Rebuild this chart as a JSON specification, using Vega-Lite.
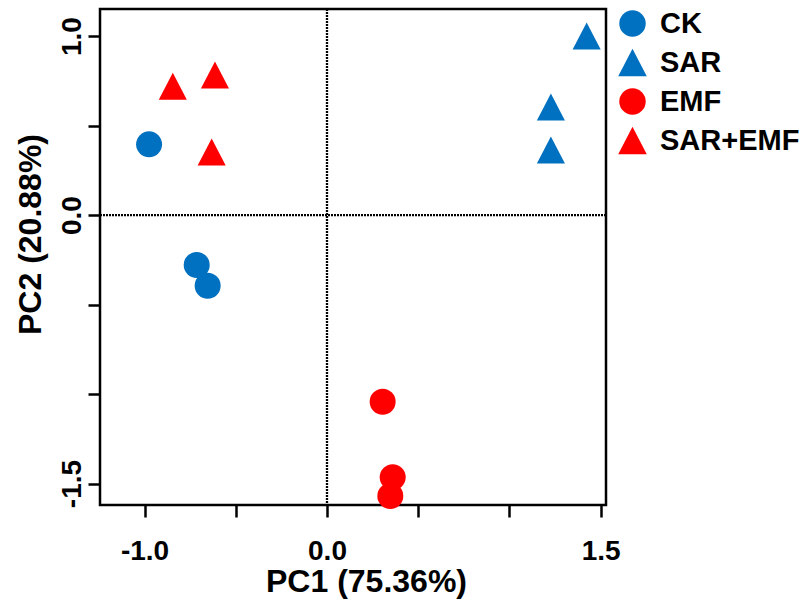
{
  "$schema": "https://vega.github.io/schema/vega-lite/v6.json",
  "autosize": "none",
  "width": 506,
  "height": 496,
  "padding": {"left": 100, "top": 9, "right": 203, "bottom": 105},
  "background": "white",
  "config": {
    "view": {"stroke": "black", "strokeWidth": 2.5},
    "font": "Liberation Sans",
    "axis": {
      "domain": false,
      "grid": false,
      "ticks": true,
      "tickColor": "black",
      "tickWidth": 2.5,
      "tickSize": 12,
      "labelFont": "Liberation Sans",
      "labelFontWeight": "bold",
      "labelFontSize": 28,
      "labelColor": "black",
      "labelOverlap": false,
      "labelFlush": false,
      "titleFont": "Liberation Sans",
      "titleFontWeight": "bold",
      "titleFontSize": 32,
      "titleColor": "black"
    },
    "legend": {
      "labelFont": "Liberation Sans",
      "labelFontWeight": "bold",
      "labelFontSize": 29,
      "labelColor": "black"
    }
  },
  "layer": [
    {
      "data": {"values": [{"x0": 0}]},
      "mark": {"type": "rule", "color": "black", "strokeWidth": 2.3, "strokeDash": [2, 1]},
      "encoding": {"x": {"field": "x0", "type": "quantitative"}}
    },
    {
      "data": {"values": [{"y0": 0}]},
      "mark": {"type": "rule", "color": "black", "strokeWidth": 2.3, "strokeDash": [2, 1]},
      "encoding": {"y": {"field": "y0", "type": "quantitative"}}
    },
    {
      "data": {
        "values": [
          {"group": "CK", "PC1": -0.975, "PC2": 0.395},
          {"group": "CK", "PC1": -0.714, "PC2": -0.279},
          {"group": "CK", "PC1": -0.654, "PC2": -0.395},
          {"group": "SAR", "PC1": 1.423, "PC2": 1.0},
          {"group": "SAR", "PC1": 1.227, "PC2": 0.603},
          {"group": "SAR", "PC1": 1.227, "PC2": 0.363},
          {"group": "EMF", "PC1": 0.305, "PC2": -1.043},
          {"group": "EMF", "PC1": 0.36, "PC2": -1.465},
          {"group": "EMF", "PC1": 0.347, "PC2": -1.57},
          {"group": "SAR+EMF", "PC1": -0.845, "PC2": 0.719},
          {"group": "SAR+EMF", "PC1": -0.614, "PC2": 0.782},
          {"group": "SAR+EMF", "PC1": -0.632, "PC2": 0.352}
        ]
      },
      "mark": {"type": "point", "filled": true, "opacity": 1, "size": 676},
      "encoding": {
        "x": {
          "field": "PC1",
          "type": "quantitative",
          "scale": {"domain": [-1.244, 1.529], "nice": false, "zero": false},
          "axis": {
            "values": [-1, -0.5, 0, 0.5, 1, 1.5],
            "labelExpr": "datum.value == -1 ? '-1.0' : datum.value == 0 ? '0.0' : datum.value == 1.5 ? '1.5' : ''",
            "labelBaseline": "top",
            "labelPadding": 20,
            "title": "PC1 (75.36%)",
            "titleX": 266,
            "titleY": 86,
            "titleAlign": "center",
            "titleBaseline": "alphabetic",
            "titleAnchor": null
          }
        },
        "y": {
          "field": "PC2",
          "type": "quantitative",
          "scale": {"domain": [-1.62, 1.151], "nice": false, "zero": false},
          "axis": {
            "values": [-1.5, -1, -0.5, 0, 0.5, 1],
            "labelExpr": "datum.value == -1.5 ? '-1.5' : datum.value == 0 ? '0.0' : datum.value == 1 ? '1.0' : ''",
            "labelAngle": -90,
            "labelAlign": "center",
            "labelBaseline": "alphabetic",
            "labelPadding": 8,
            "title": "PC2 (20.88%)",
            "titleAngle": -90,
            "titleX": -60,
            "titleY": 225,
            "titleAlign": "center",
            "titleBaseline": "alphabetic"
          }
        },
        "color": {
          "field": "group",
          "type": "nominal",
          "scale": {"domain": ["CK", "SAR", "EMF", "SAR+EMF"], "range": ["#0070C0", "#0070C0", "#FF0000", "#FF0000"]},
          "legend": {
            "title": null,
            "orient": "none",
            "legendX": 518,
            "legendY": 0,
            "padding": 0,
            "symbolSize": 700,
            "symbolOpacity": 1,
            "symbolStrokeWidth": 0,
            "rowPadding": 9,
            "labelOffset": 13
          }
        },
        "shape": {
          "field": "group",
          "type": "nominal",
          "scale": {"domain": ["CK", "SAR", "EMF", "SAR+EMF"], "range": ["circle", "M0,-1.04L1.08,1.04L-1.08,1.04Z", "circle", "M0,-1.04L1.08,1.04L-1.08,1.04Z"]},
          "legend": {
            "title": null,
            "orient": "none",
            "legendX": 518,
            "legendY": 0,
            "padding": 0,
            "symbolSize": 700,
            "symbolOpacity": 1,
            "symbolStrokeWidth": 0,
            "rowPadding": 9,
            "labelOffset": 13
          }
        }
      }
    }
  ]
}
